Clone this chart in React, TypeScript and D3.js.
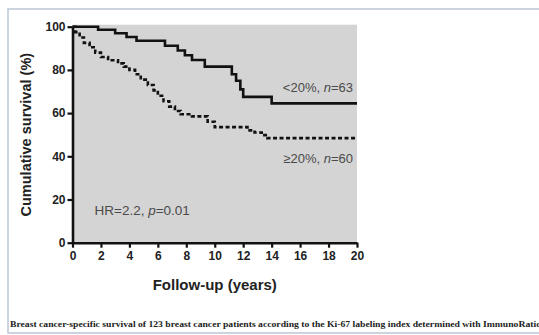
import React, { useRef, useEffect } from "react";
import * as d3 from "d3";

// Kaplan-Meier steps: [years, survival %]
const lowTimes = [0, 1.8, 3.0, 3.8, 4.5, 6.5, 7.4, 7.9, 8.4, 9.3, 11.2, 11.5, 11.8, 12.0, 14.0, 20];
const lowSurv = [100, 98.6, 97, 95.2, 93.5, 91.2, 89, 86.8, 84.6, 81.5, 78, 75, 71, 67.5, 64.5, 64.5];

const highTimes = [0, 0.2, 0.5, 0.8, 1.2, 1.6, 2.0, 2.5, 3.2, 3.6, 4.0, 4.4, 4.8, 5.3, 5.7, 6.0, 6.4, 6.8, 7.2, 7.6, 8.4, 9.5, 10.0, 12.3, 12.8, 13.3, 13.7, 20];
const highSurv = [100, 97.5, 95, 92.5, 90.5, 88, 86, 84.5, 83, 81.5, 80, 78, 75.5, 73, 70.5, 68, 65.5, 63, 61, 59.5, 58.5, 56, 53.5, 52, 51, 49.8, 48.4, 48.4];

const xTicks = [0, 2, 4, 6, 8, 10, 12, 14, 16, 18, 20];
const yTicks = [0, 20, 40, 60, 80, 100];

const caption =
  "Breast cancer-specific survival of 123 breast cancer patients according to the Ki-67 labeling index determined with ImmunoRatio";

const App = () => {
  const ref = useRef<SVGSVGElement>(null);

  useEffect(() => {
    const svg = d3.select(ref.current);
    svg.selectAll("*").remove();

    const width = 539;
    const height = 335;
    const margin = { top: 26.7, left: 72.5, right: 182, bottom: 92.3 };
    const chartW = width - margin.left - margin.right;
    const chartH = height - margin.top - margin.bottom;

    svg.append("rect").attr("width", width).attr("height", height).attr("fill", "#fff");

    // outer frame
    svg
      .append("path")
      .attr("d", `M${width + 5},9H8V333H${width + 5}`)
      .attr("fill", "none")
      .attr("stroke", "#bcc6d6")
      .attr("stroke-width", 1.5);

    const x = d3.scaleLinear().domain([0, 20]).range([0, chartW]);
    const y = d3.scaleLinear().domain([0, 100]).range([chartH, 0]);

    const g = svg.append("g").attr("transform", `translate(${margin.left},${margin.top})`);

    g.append("rect")
      .attr("x", 0)
      .attr("y", -2)
      .attr("width", chartW)
      .attr("height", chartH + 2)
      .attr("fill", "#d4d4d4");

    const lowData = lowTimes.map((t, i) => [t, lowSurv[i]] as [number, number]);
    const highData = highTimes.map((t, i) => [t, highSurv[i]] as [number, number]);

    const step = d3
      .line<[number, number]>()
      .x((d) => x(d[0]))
      .y((d) => y(d[1]))
      .curve(d3.curveStepAfter);

    g.append("path")
      .attr("d", step(highData))
      .attr("fill", "none")
      .attr("stroke", "#111")
      .attr("stroke-width", 2.6)
      .attr("stroke-dasharray", "4,2.5");

    g.append("path")
      .attr("d", step(lowData))
      .attr("fill", "none")
      .attr("stroke", "#111")
      .attr("stroke-width", 2.6);

    // axes
    const xAxis = g
      .append("g")
      .attr("transform", `translate(0,${chartH})`)
      .call(d3.axisBottom(x).tickValues(xTicks).tickSize(5).tickPadding(4).tickSizeOuter(0));
    const yAxis = g
      .append("g")
      .call(d3.axisLeft(y).tickValues(yTicks).tickSize(5).tickPadding(2).tickSizeOuter(0));

    [xAxis, yAxis].forEach((a) => {
      a.select(".domain").attr("stroke", "#111").attr("stroke-width", 2.6);
      a.selectAll(".tick line").attr("stroke", "#111").attr("stroke-width", 2.2);
      a.selectAll(".tick text")
        .attr("fill", "#222")
        .style("font-family", "Liberation Sans, Arial, sans-serif")
        .style("font-weight", "bold")
        .style("font-size", "12px");
    });

    // labels
    svg
      .append("text")
      .attr("transform", `translate(31,${margin.top + chartH / 2}) rotate(-90)`)
      .attr("text-anchor", "middle")
      .style("font-family", "Liberation Sans, Arial, sans-serif")
      .style("font-weight", "bold")
      .style("font-size", "14.5px")
      .attr("fill", "#222")
      .text("Cumulative survival (%)");

    svg
      .append("text")
      .attr("x", margin.left + chartW / 2)
      .attr("y", 290)
      .attr("text-anchor", "middle")
      .style("font-family", "Liberation Sans, Arial, sans-serif")
      .style("font-weight", "bold")
      .style("font-size", "15px")
      .attr("fill", "#222")
      .text("Follow-up (years)");

    const annot = (tx: number, ty: number, parts: [string, boolean][], anchor: string, size: number) => {
      const t = g
        .append("text")
        .attr("x", tx)
        .attr("y", ty)
        .attr("text-anchor", anchor)
        .style("font-family", "Liberation Sans, Arial, sans-serif")
        .style("font-size", size + "px")
        .attr("fill", "#4a4a4a");
      parts.forEach(([s, it]) => t.append("tspan").style("font-style", it ? "italic" : "normal").text(s));
    };

    annot(chartW - 4, y(71) + 3, [["<20%, ", false], ["n", true], ["=63", false]], "end", 13);
    annot(chartW - 4, y(37), [["≥20%, ", false], ["n", true], ["=60", false]], "end", 13);
    annot(22, y(12.8), [["HR=2.2, ", false], ["p", true], ["=0.01", false]], "start", 13.5);

    svg
      .append("text")
      .attr("x", 10)
      .attr("y", 327)
      .attr("textLength", 531)
      .attr("lengthAdjust", "spacingAndGlyphs")
      .style("font-family", "Liberation Serif, Times New Roman, serif")
      .style("font-weight", "bold")
      .style("font-size", "8px")
      .attr("fill", "#222")
      .text(caption);
  }, []);

  return (
    <svg
      ref={ref}
      width={539}
      height={335}
      style={{ position: "absolute", left: 0, top: 0, display: "block" }}
    />
  );
};

export default App;
